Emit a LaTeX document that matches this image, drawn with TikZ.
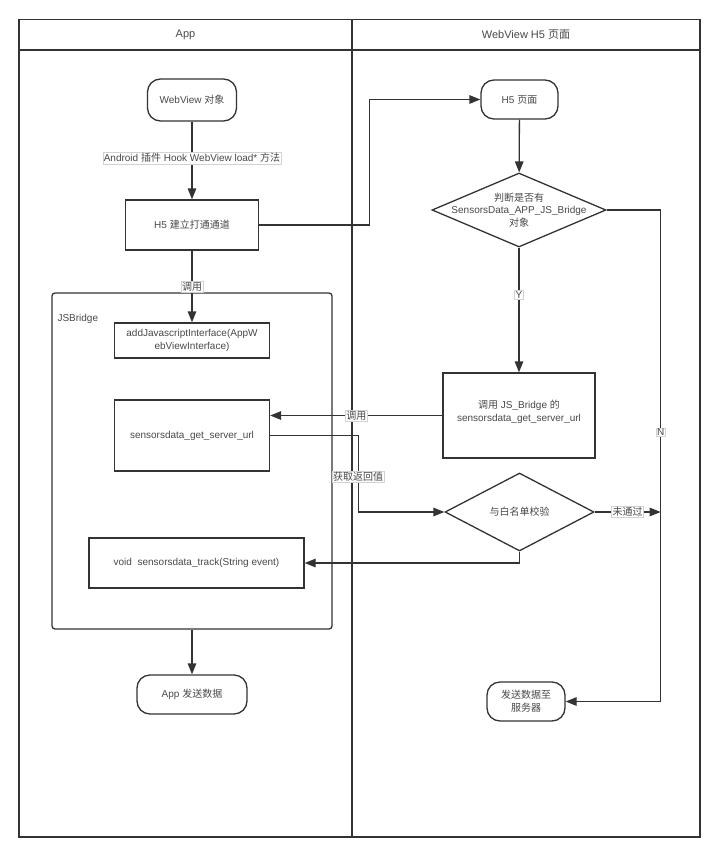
\documentclass[tikz,border=0pt]{standalone}
\usepackage{fontspec}
\setmainfont{Liberation Sans}
\newfontfamily\cjk{Noto Sans CJK SC}
\newcommand\zh[1]{{\cjk #1}}
\usetikzlibrary{arrows.meta,calc,positioning,shapes.geometric}
\definecolor{cln}{RGB}{51,51,51}
\definecolor{ctx}{RGB}{72,72,72}
\definecolor{clb}{RGB}{210,210,210}

\begin{document}
\begin{tikzpicture}[
  x=1pt,y=-1pt,
  >={Triangle[length=11pt,width=8.5pt]},
  every node/.style={font=\fontsize{10}{12.8}\selectfont,text=ctx},
  term/.style={draw=cln,line width=1.3pt,rounded corners=13pt,align=center,inner sep=0pt},
  proc/.style={draw=cln,line width=1.3pt,align=center,inner sep=0pt},
  dec/.style={draw=cln,line width=1.3pt,diamond,inner sep=0pt},
  flow/.style={cln,line width=1.3pt,->},
  elab/.style={fill=white,draw=clb,line width=0.4pt,inner sep=1pt},
]
\useasboundingbox (0,0) rectangle (720,857);

% ============================ swimlanes ============================
\draw[cln,line width=1.6pt] (19,19.5) rectangle (700,837);
\draw[cln,line width=1.6pt] (19,50) -- (700,50);
\draw[cln,line width=1.6pt] (352,19.5) -- (352,837);
\node[font=\fontsize{11}{13}\selectfont] (laneapp) at (185.5,35) {App};
\node[font=\fontsize{11}{13}\selectfont] (laneh5) at (526,35) {WebView H5 \zh{页面}};

% ============================ App side ============================
\node[term,minimum width=89pt,minimum height=42pt] (webview) at (192,100) {WebView \zh{对象}};
\node[proc,minimum width=133pt,minimum height=50pt] (build) at (192,225) {H5 \zh{建立打通通道}};

% JSBridge container
\node[draw=cln,line width=1.3pt,rounded corners=3pt,minimum width=280pt,minimum height=336pt,inner sep=0pt] (jsb) at (192,461) {};
\node[anchor=west] (jsblab) at (54,319) {JSBridge};

\node[proc,minimum width=155pt,minimum height=35pt] (addjs) at (192,340.5) {addJavascriptInterface(AppW\\ebViewInterface)};
\node[proc,minimum width=155pt,minimum height=71pt] (geturl) at (192,435.5) {sensorsdata\_get\_server\_url};
\node[proc,minimum width=215pt,minimum height=50pt] (track) at (196.5,563) {void\ \ sensorsdata\_track(String event)};

\node[term,minimum width=110pt,minimum height=39pt] (appsend) at (192,694.5) {App \zh{发送数据}};

% ============================ H5 side ============================
\node[term,minimum width=77pt,minimum height=39pt] (h5page) at (519.5,99.5) {H5 \zh{页面}};

\node[dec,minimum width=174pt,minimum height=74pt] (check) at (519,210) {};
\node[align=center] (checktxt) at (check) {\zh{判断是否有}\\SensorsData\_APP\_JS\_Bridge\\\zh{对象}};

\node[proc,minimum width=152pt,minimum height=85pt] (callbox) at (519,415.5) {};
\node[align=center] (calltxt) at ([yshift=4pt]callbox) {\zh{调用} JS\_Bridge \zh{的}\\sensorsdata\_get\_server\_url};

\node[dec,minimum width=149pt,minimum height=78pt] (whitelist) at (519.5,512) {};
\node (whitetxt) at (whitelist) {\zh{与白名单校验}};

\node[term,minimum width=78pt,minimum height=39pt] (server) at (526,701.5) {\zh{发送数据至}\\\zh{服务器}};

% ============================ connectors ============================
\draw[flow] (webview) -- node[elab,pos=0.47]{Android \zh{插件} Hook WebView load* \zh{方法}} (build);
\draw[flow] (build.east) -- ++(110,0) |- (h5page.west);
\draw[flow] (build) -- node[elab]{\zh{调用}} (addjs);

\draw[flow] (h5page) -- (check);
\draw[flow] (check) -- node[elab,pos=0.38]{Y} (callbox);
\draw[flow] (callbox.west) -- node[elab]{\zh{调用}} (callbox.west -| geturl.east);
\draw[flow] (geturl.east) -- ++(88,0) |- node[elab,pos=0.27]{\zh{获取返回值}} (whitelist.west);

% N branch down to server
\draw[flow] (check.east) -- ++(54,0) coordinate (nturn) |- node[elab,pos=0.226]{N} (server.east);
\draw[flow] (whitelist.east) -- node[elab]{\zh{未通过}} (whitelist.east -| nturn);
\draw[flow] (whitelist.south) |- (track.east);

\draw[flow] (jsb) -- (appsend);

\end{tikzpicture}
\end{document}
